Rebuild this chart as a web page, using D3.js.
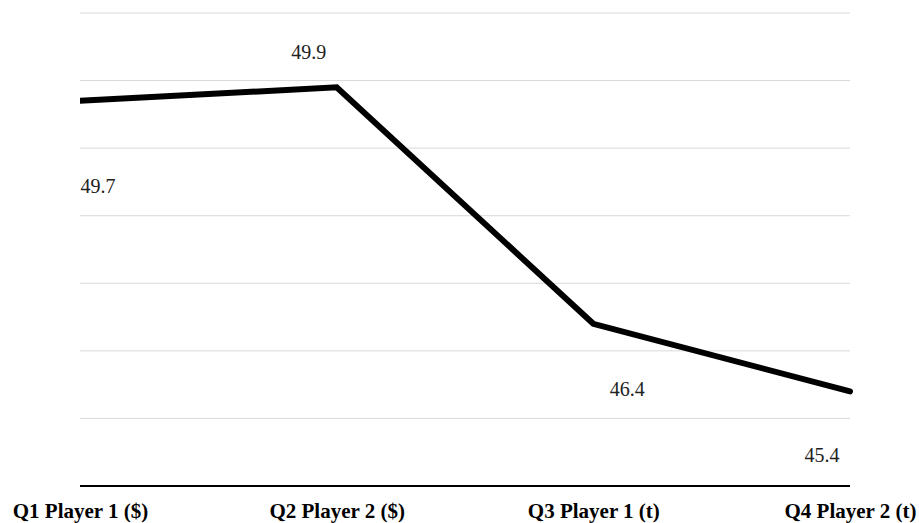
<!DOCTYPE html>
<html>
<head>
<meta charset="utf-8">
<script src="https://cdn.jsdelivr.net/npm/d3@7"></script>
<style>
  html, body { margin: 0; padding: 0; background: #fff; }
  svg { display: block; }
</style>
</head>
<body>
<svg id="chart" width="919" height="523"></svg>
<script>
// Quarterly values per player
const categories = ["Q1 Player 1 ($)", "Q2 Player 2 ($)", "Q3 Player 1 (t)", "Q4 Player 2 (t)"];
const values = [49.7, 49.9, 46.4, 45.4];
const yTicks = [44, 45, 46, 47, 48, 49, 50, 51];

const FONT = "Liberation Serif, Times New Roman, serif";
const width = 919, height = 523;
const margin = { left: 80, right: 69, top: 13, bottom: 37 };

const svg = d3.select("#chart");

const x = d3.scalePoint()
  .domain(categories)
  .range([margin.left, width - margin.right]);

const y = d3.scaleLinear()
  .domain([44, 51])
  .range([height - margin.bottom, margin.top]);

// horizontal gridlines
svg.append("g")
  .selectAll("line")
  .data(yTicks.slice(1))
  .join("line")
  .attr("x1", margin.left)
  .attr("x2", width - margin.right)
  .attr("y1", d => y(d))
  .attr("y2", d => y(d))
  .attr("stroke", "#d9d9d9")
  .attr("stroke-width", 1);

// baseline axis with category labels
const xAxis = svg.append("g")
  .attr("transform", `translate(0,${y(44)})`)
  .call(d3.axisBottom(x).tickSize(0).tickPadding(0));
xAxis.select(".domain").remove();
xAxis.append("line")
  .attr("x1", margin.left)
  .attr("x2", width - margin.right)
  .attr("stroke", "#000")
  .attr("stroke-width", 2);
xAxis.selectAll(".tick text")
  .attr("y", 32)
  .attr("dy", 0)
  .attr("fill", "#000")
  .attr("font-family", FONT)
  .attr("font-size", 21)
  .attr("font-weight", "bold");

// clip so the line starts flush at the first category
svg.append("clipPath").attr("id", "plotClip")
  .append("rect")
  .attr("x", margin.left)
  .attr("y", 0)
  .attr("width", width - margin.left)
  .attr("height", height);

const line = d3.line()
  .x((d, i) => x(categories[i]))
  .y(d => y(d));

svg.append("path")
  .datum(values)
  .attr("clip-path", "url(#plotClip)")
  .attr("d", line)
  .attr("fill", "none")
  .attr("stroke", "#000")
  .attr("stroke-width", 6)
  .attr("stroke-linecap", "round");

// value labels, each nudged off its point
const labelOffsets = [[18, 92], [-28, -28], [34, 72], [-28, 71]];
svg.append("g")
  .selectAll("text")
  .data(values)
  .join("text")
  .attr("x", (d, i) => x(categories[i]) + labelOffsets[i][0])
  .attr("y", (d, i) => y(d) + labelOffsets[i][1])
  .attr("text-anchor", "middle")
  .attr("fill", "#222")
  .attr("font-family", FONT)
  .attr("font-size", 20)
  .text(d => d.toFixed(1));
</script>
</body>
</html>
